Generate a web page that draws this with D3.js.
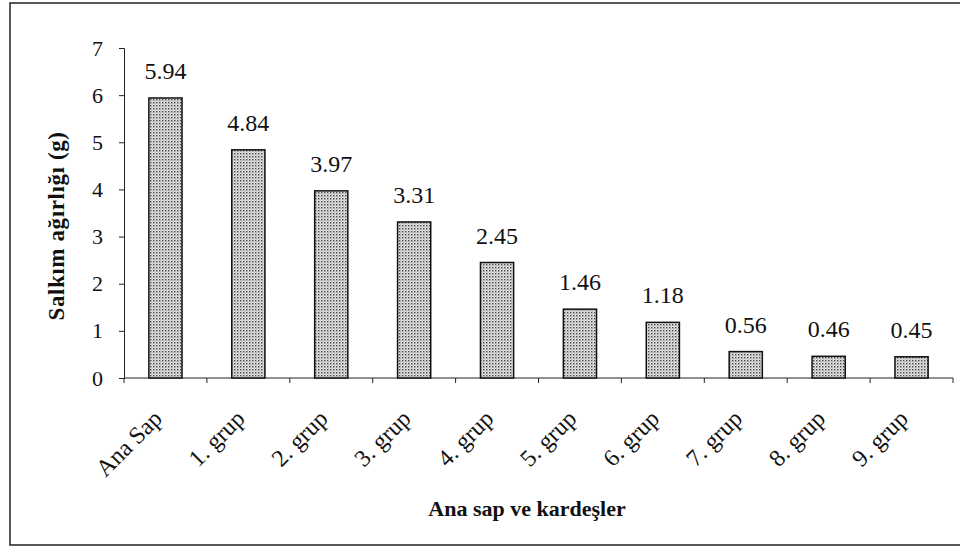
<!DOCTYPE html>
<html>
<head>
<meta charset="utf-8">
<script src="https://cdn.jsdelivr.net/npm/d3@7"></script>
<style>
body { margin: 0; background: #fff; }
svg text { font-family: "Liberation Serif", "DejaVu Serif", "Times New Roman", serif !important; fill: #111; }
.axis path, .axis line { stroke: #222; }
</style>
</head>
<body>
<svg id="chart" width="960" height="556"></svg>
<script>
var groups = ["Ana Sap", "1. grup", "2. grup", "3. grup", "4. grup", "5. grup", "6. grup", "7. grup", "8. grup", "9. grup"];
var weights = [5.94, 4.84, 3.97, 3.31, 2.45, 1.46, 1.18, 0.56, 0.46, 0.45];
var yTicks = [0, 1, 2, 3, 4, 5, 6, 7];

var serif = "'Liberation Serif', 'DejaVu Serif', serif";

var svg = d3.select("#chart"),
    width = +svg.attr("width"),
    height = +svg.attr("height");

var margin = {left: 124, right: 7, top: 48, bottom: 178};

// outer frame
svg.append("rect")
    .attr("x", 10).attr("y", 3)
    .attr("width", 956).attr("height", 542)
    .attr("fill", "none")
    .attr("stroke", "#222")
    .attr("stroke-width", 1.5);

// dotted fill like the print
var defs = svg.append("defs");
var pat = defs.append("pattern")
    .attr("id", "dots")
    .attr("patternUnits", "userSpaceOnUse")
    .attr("width", 3).attr("height", 3);
pat.append("rect").attr("width", 3).attr("height", 3).attr("fill", "#e4e4e4");
pat.append("rect").attr("x", 0).attr("y", 0).attr("width", 1.4).attr("height", 1.4).attr("fill", "#444");
pat.append("rect").attr("x", 1.5).attr("y", 1.5).attr("width", 1).attr("height", 1).attr("fill", "#888");

var x = d3.scaleBand()
    .domain(groups)
    .range([margin.left, width - margin.right])
    .paddingInner(0.6)
    .paddingOuter(0.3);

var y = d3.scaleLinear()
    .domain([0, 7])
    .range([height - margin.bottom, margin.top]);

// y axis
var yAxis = svg.append("g")
    .attr("class", "axis")
    .attr("font-family", serif)
    .attr("transform", "translate(" + margin.left + ",0)")
    .call(d3.axisLeft(y).tickValues(yTicks).tickSize(5).tickPadding(16).tickFormat(d3.format("d")));
yAxis.selectAll("text").style("font-size", "22px").style("font-family", serif);

// x axis: ticks between categories
var step = x.step();
var xBounds = d3.range(groups.length + 1).map(function (i) { return margin.left + i * step; });
var xAxis = svg.append("g").attr("class", "axis");
xAxis.append("line")
    .attr("x1", margin.left).attr("x2", width - margin.right)
    .attr("y1", y(0)).attr("y2", y(0))
    .attr("stroke", "#222");
xAxis.selectAll(".tk")
    .data(xBounds)
    .enter().append("line")
    .attr("x1", function (d) { return d; }).attr("x2", function (d) { return d; })
    .attr("y1", y(0)).attr("y2", y(0) + 5)
    .attr("stroke", "#222");

xAxis.selectAll(".lbl")
    .data(groups)
    .enter().append("text")
    .attr("text-anchor", "end")
    .attr("transform", function (d) {
        return "translate(" + (x(d) + x.bandwidth() / 2 - 2) + "," + (y(0) + 42) + ") rotate(-45)";
    })
    .style("font-size", "24px")
    .style("font-family", serif)
    .text(function (d) { return d; });

// bars
svg.selectAll(".bar")
    .data(weights)
    .enter().append("rect")
    .attr("class", "bar")
    .attr("x", function (d, i) { return x(groups[i]); })
    .attr("y", function (d) { return y(d); })
    .attr("width", x.bandwidth())
    .attr("height", function (d) { return y(0) - y(d); })
    .attr("fill", "url(#dots)")
    .attr("stroke", "#111")
    .attr("stroke-width", 1.5);

// value labels
svg.selectAll(".val")
    .data(weights)
    .enter().append("text")
    .attr("x", function (d, i) { return x(groups[i]) + x.bandwidth() / 2; })
    .attr("y", function (d) { return y(d) - 19; })
    .attr("text-anchor", "middle")
    .style("font-size", "24px")
    .style("font-family", serif)
    .text(function (d) { return d3.format(".2f")(d); });

// axis titles
svg.append("text")
    .attr("transform", "translate(64,226) rotate(-90)")
    .attr("text-anchor", "middle")
    .style("font-size", "23px")
    .style("font-weight", "bold")
    .style("letter-spacing", "0.6px")
    .style("font-family", serif)
    .text("Salkım ağırlığı (g)");

svg.append("text")
    .attr("x", 527).attr("y", 516)
    .attr("text-anchor", "middle")
    .style("font-size", "22px")
    .style("font-weight", "bold")
    .style("font-family", serif)
    .text("Ana sap ve kardeşler");
</script>
</body>
</html>
